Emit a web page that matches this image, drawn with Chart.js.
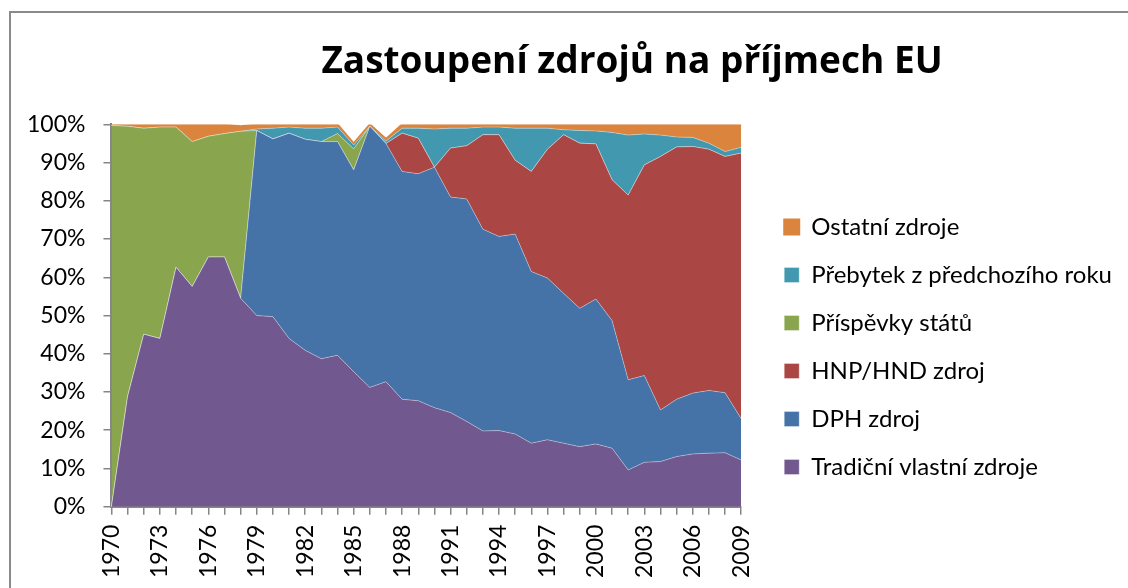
<!DOCTYPE html>
<html>
<head>
<meta charset="utf-8">
<script src="https://cdn.jsdelivr.net/npm/chart.js@4"></script>
<style>
  body { margin: 0; background: #fff; overflow: hidden; }
  #wrap { position: relative; width: 1128px; height: 588px; }
  #frame { position: absolute; left: 9px; top: 11px; width: 1200px; height: 700px; border: 2px solid #8a8a8a; }
  canvas { position: absolute; left: 0; top: 0; }
</style>
</head>
<body>
<div id="wrap">
  <div id="frame"></div>
  <canvas id="myChart" width="1128" height="588"></canvas>
</div>
<script>
// roky 1970-2009
const years = ['1970', '1971', '1972', '1973', '1974', '1975', '1976', '1977', '1978', '1979',
  '1980', '1981', '1982', '1983', '1984', '1985', '1986', '1987', '1988', '1989',
  '1990', '1991', '1992', '1993', '1994', '1995', '1996', '1997', '1998', '1999',
  '2000', '2001', '2002', '2003', '2004', '2005', '2006', '2007', '2008', '2009'];

// podil v %
const tradicni = [0, 28.8, 45.1, 44.0, 62.6, 57.6, 65.3, 65.3, 54.5, 50.0,
  49.7, 44.0, 40.9, 38.7, 39.6, 35.3, 31.2, 32.7, 28.1, 27.7,
  25.9, 24.6, 22.3, 19.8, 19.9, 19.0, 16.6, 17.5, 16.6, 15.7,
  16.4, 15.3, 9.6, 11.6, 11.8, 13.1, 13.8, 14.0, 14.1, 12.2];
const dph = [0, 0, 0, 0, 0, 0, 0, 0, 0, 48.4,
  46.5, 53.7, 55.2, 56.8, 55.9, 52.8, 68.3, 62.3, 59.6, 59.4,
  62.9, 56.4, 58.2, 52.8, 50.8, 52.3, 44.9, 42.3, 39.2, 36.2,
  37.9, 33.4, 23.6, 22.7, 13.5, 15.0, 15.9, 16.4, 15.7, 10.8];
const hnp = [0, 0, 0, 0, 0, 0, 0, 0, 0, 0,
  0, 0, 0, 0, 0, 0, 0, 0, 10.0, 9.3,
  0, 12.8, 13.9, 24.7, 26.6, 19.3, 26.2, 33.7, 41.5, 43.2,
  40.6, 36.8, 48.3, 55.1, 66.3, 66.0, 64.5, 63.1, 61.8, 69.5];
const prispevky = [99.7, 70.7, 53.9, 55.3, 36.7, 37.9, 31.6, 32.3, 43.7, 0,
  0, 0, 0, 0, 2.1, 5.5, 0, 0, 0, 0,
  0, 0, 0, 0, 0, 0, 0, 0, 0, 0,
  0, 0, 0, 0, 0, 0, 0, 0, 0, 0];
const prebytek = [0, 0, 0, 0, 0, 0, 0, 0, 0, 0.4,
  2.8, 1.6, 2.9, 3.5, 1.7, 1.0, 0, 0.6, 1.3, 2.6,
  10.0, 5.2, 4.6, 2.0, 2.0, 8.4, 11.3, 5.5, 1.3, 3.3,
  3.4, 12.4, 15.7, 8.1, 5.6, 2.6, 2.4, 1.6, 1.3, 1.5];
const ostatni = [0.3, 0.5, 1.0, 0.7, 0.7, 4.5, 3.1, 2.4, 1.3, 1.2,
  1.0, 0.7, 1.0, 1.0, 0.7, 0.4, 0.5, 0.6, 1.0, 1.0,
  1.2, 1.0, 1.0, 0.7, 0.7, 1.0, 1.0, 1.0, 1.4, 1.6,
  1.7, 2.1, 2.8, 2.5, 2.8, 3.3, 3.4, 4.9, 7.1, 6.0];

const yTicks = [0, 10, 20, 30, 40, 50, 60, 70, 80, 90, 100];

const fontName = 'Lato';
const axisColor = '#868686';

function area(label, data, color, first) {
    return {
        label: label,
        data: data,
        backgroundColor: color,
        borderColor: 'rgba(255,255,255,0.35)',
        borderWidth: 1,
        fill: first ? 'origin' : '-1',
        pointRadius: 0,
        pointHoverRadius: 0,
        tension: 0
    };
}

const datasets = [
    area('Tradiční vlastní zdroje', tradicni, '#71588F', true),
    area('DPH zdroj', dph, '#4572A7'),
    area('HNP/HND zdroj', hnp, '#AA4643'),
    area('Příspěvky států', prispevky, '#89A54E'),
    area('Přebytek z předchozího roku', prebytek, '#4198AF'),
    area('Ostatní zdroje', ostatni, '#DB843D')
];
datasets[5].borderColor = '#DB843D';
datasets[5].borderWidth = 2;

// titulek vycentrovat jako v Excelu (stred ~632px)
const titleShift = {
    id: 'titleShift',
    afterLayout(chart) {
        const t = chart.titleBlock;
        const d = 632 - (t.left + t.right) / 2;
        t.left += d;
        t.right += d;
    }
};

// legenda vpravo je jinak omezena na 1/4 sirky
const wideLegend = {
    id: 'wideLegend',
    beforeLayout(chart) {
        const lg = chart.legend;
        if (lg && !lg.widePatched) {
            const upd = lg.update;
            lg.update = function (maxWidth, maxHeight, margins) {
                return upd.call(this, Math.max(maxWidth, 420), maxHeight, margins);
            };
            lg.widePatched = true;
        }
    }
};

const config = {
    type: 'line',
    data: { labels: years, datasets: datasets },
    plugins: [titleShift, wideLegend],
    options: {
        responsive: false,
        devicePixelRatio: 1,
        animation: false,
        layout: { padding: { left: 9, right: 6, top: 20, bottom: 0 } },
        plugins: {
            title: {
                display: true,
                text: 'Zastoupení zdrojů na příjmech EU',
                color: '#000',
                font: { family: 'Open Sans', size: 37, weight: 'bold', lineHeight: 1.2 },
                padding: { top: 20, bottom: 40 }
            },
            legend: {
                position: 'right',
                reverse: true,
                title: {
                    display: true,
                    text: ' ',
                    font: { size: 10, lineHeight: 1 },
                    padding: { top: 76, bottom: 0 }
                },
                labels: {
                    color: '#000',
                    font: { family: fontName, size: 24 },
                    boxWidth: 15,
                    boxHeight: 15,
                    padding: 24
                }
            },
            tooltip: { enabled: false }
        },
        scales: {
            x: {
                grid: { display: true, drawOnChartArea: false, color: axisColor, tickLength: 8, lineWidth: 1.5 },
                border: { color: axisColor, width: 2 },
                ticks: {
                    autoSkip: false,
                    maxRotation: 90,
                    minRotation: 90,
                    padding: 10,
                    color: '#000',
                    font: { family: fontName, size: 23 },
                    callback: function (v, i) { return i % 3 === 0 ? years[i] : ''; }
                }
            },
            y: {
                stacked: true,
                min: 0,
                max: 100,
                afterBuildTicks: function (axis) {
                    axis.ticks = yTicks.map(function (v) { return { value: v }; });
                },
                grid: { display: true, drawOnChartArea: false, color: axisColor, tickLength: 8, lineWidth: 1.5 },
                border: { color: axisColor, width: 2 },
                ticks: {
                    padding: 18,
                    color: '#000',
                    font: { family: fontName, size: 23 },
                    callback: function (v) { return v + '%'; }
                }
            },
            gap: {
                position: 'right',
                display: true,
                grid: { display: false },
                border: { display: false },
                ticks: { display: false },
                afterFit: function (axis) { axis.width = 19; }
            }
        }
    }
};

const myChart = new Chart(document.getElementById('myChart'), config);
</script>
</body>
</html>
